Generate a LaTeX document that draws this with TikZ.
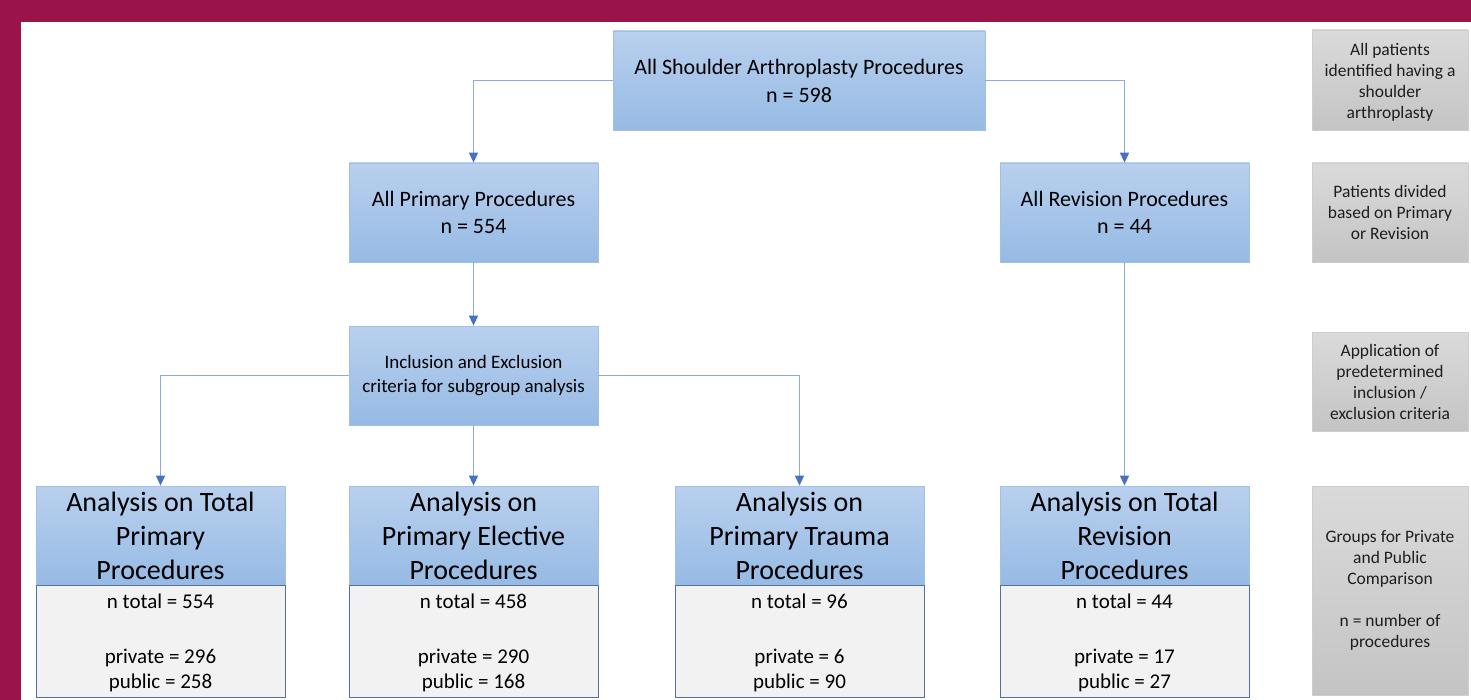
\documentclass[tikz,border=0pt]{standalone}
\usepackage{fontspec}
\setmainfont{Carlito}
\usetikzlibrary{arrows.meta}
\definecolor{maroon}{RGB}{154,20,74}
\definecolor{bluetop}{RGB}{185,208,238}
\definecolor{bluebot}{RGB}{150,186,228}
\definecolor{blueedge}{RGB}{160,192,230}
\definecolor{bodyedge}{RGB}{85,112,160}
\definecolor{bodyfill}{RGB}{242,242,242}
\definecolor{greytop}{RGB}{218,218,218}
\definecolor{greybot}{RGB}{196,196,196}
\definecolor{greyedge}{RGB}{205,205,205}
\definecolor{linecol}{RGB}{140,170,222}
\definecolor{tipcol}{RGB}{68,114,196}
\newcommand{\topstrut}[1]{\rule{0pt}{#1}}
\tikzset{
  bluebox/.style={rectangle, draw=blueedge, line width=0.8pt, top color=bluetop, bottom color=bluebot,
    inner sep=0pt, align=center, text=black, minimum width=249pt, minimum height=99pt},
  headbox/.style={bluebox, font=\fontsize{28}{34}\selectfont},
  bodybox/.style={rectangle, draw=bodyedge, line width=1pt, fill=bodyfill, inner sep=0pt, align=center,
    minimum width=249pt, minimum height=112pt, font=\fontsize{21}{25}\selectfont},
  sidebox/.style={rectangle, draw=greyedge, line width=0.8pt, top color=greytop, bottom color=greybot,
    inner sep=0pt, align=center, minimum width=156pt, font=\fontsize{17.5}{21}\selectfont, text={rgb,255:red,30;green,30;blue,30}},
  conn/.style={draw=linecol, line width=1.4pt, -{Triangle[length=10pt,width=9pt,color=tipcol]}}
}
\begin{document}
\begin{tikzpicture}[x=1pt,y=-1pt]
\useasboundingbox (0,0) rectangle (1471,700);
\fill[white] (0,0) rectangle (1471,700);
\fill[maroon] (0,0) rectangle (1471,22);
\fill[maroon] (0,0) rectangle (21,700);

\node[bluebox, minimum width=372pt, font=\fontsize{22}{28}\selectfont] (top) at (799,80.5) {All Shoulder Arthroplasty Procedures\\n = 598};
\node[bluebox, font=\fontsize{22}{27}\selectfont] (prim) at (473.5,212.5) {All Primary Procedures\\n = 554};
\node[bluebox, font=\fontsize{22}{27}\selectfont] (rev) at (1124.5,212.5) {All Revision Procedures\\n = 44};
\node[bluebox, font=\fontsize{19}{24}\selectfont] (incl) at (473.5,375.5) {Inclusion and Exclusion\\criteria for subgroup analysis};

\node[headbox] (h1) at (160.5,535.5) {Analysis on Total\\Primary\\Procedures};
\node[headbox] (h2) at (473.5,535.5) {Analysis on\\Primary Elective\\Procedures};
\node[headbox] (h3) at (799.5,535.5) {Analysis on\\Primary Trauma\\Procedures};
\node[headbox] (h4) at (1124.5,535.5) {Analysis on Total\\Revision\\Procedures};

\node[bodybox] (b1) at (160.5,641) {\topstrut{19pt}n total = 554\\[30pt]private = 296\\public = 258};
\node[bodybox] (b2) at (473.5,641) {\topstrut{19pt}n total = 458\\[30pt]private = 290\\public = 168};
\node[bodybox] (b3) at (799.5,641) {\topstrut{19pt}n total = 96\\[30pt]private = 6\\public = 90};
\node[bodybox] (b4) at (1124.5,641) {\topstrut{19pt}n total = 44\\[30pt]private = 17\\public = 27};

\node[sidebox, minimum height=100pt] (s1) at (1390,80) {\topstrut{17pt}All patients\\identified having a\\shoulder\\arthroplasty};
\node[sidebox, minimum height=99pt] (s2) at (1390,212.5) {Patients divided\\based on Primary\\or Revision};
\node[sidebox, minimum height=99pt] (s3) at (1390,381.5) {Application of\\predetermined\\inclusion /\\exclusion criteria};
\node[sidebox, minimum height=209pt] (s4) at (1390,590.5) {Groups for Private\\and Public\\Comparison\\[21pt]n = number of\\procedures};

\draw[conn] (top.west) -| (prim.north);
\draw[conn] (top.east) -| (rev.north);
\draw[conn] (prim.south) -- (incl.north);
\draw[conn] (incl.west) -| (h1.north);
\draw[conn] (incl.east) -| (h3.north);
\draw[conn] (incl.south) -- (h2.north);
\draw[conn] (rev.south) -- (h4.north);
\end{tikzpicture}
\end{document}
